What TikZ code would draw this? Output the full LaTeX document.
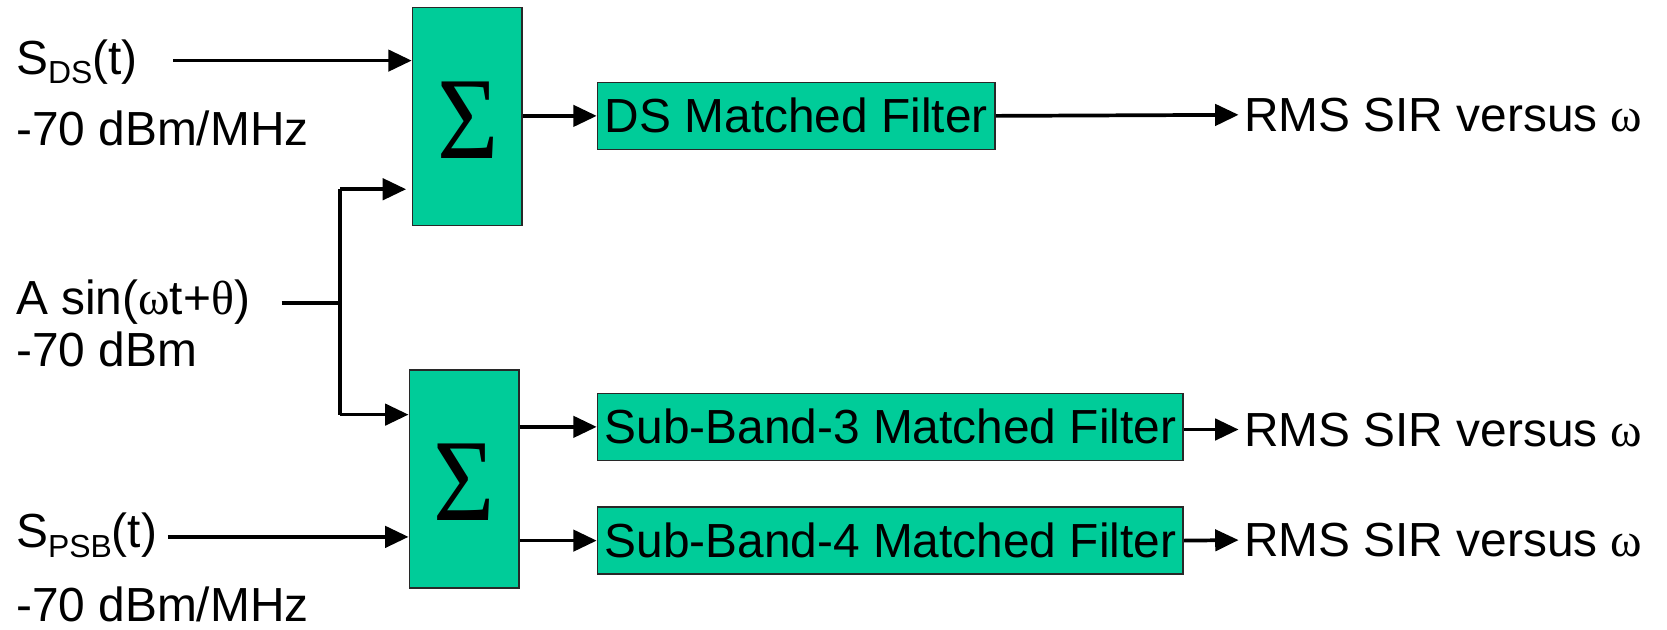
\documentclass[tikz,border=0pt]{standalone}
\usepackage{fontspec}
\setmainfont{Liberation Sans}
\newfontfamily\serifg{Liberation Serif}
\usetikzlibrary{arrows.meta}
\definecolor{boxgreen}{RGB}{0,204,153}
\definecolor{boxedge}{RGB}{40,40,40}
\newcommand{\mybigfont}{\fontsize{45}{54}\selectfont}
\newcommand{\mysubs}[1]{\raisebox{-9pt}{\fontsize{30}{30}\selectfont #1}}
\newcommand{\mysigma}{\scalebox{0.9}[1]{\serifg\fontsize{110}{110}\selectfont Σ}}
\begin{document}
\begin{tikzpicture}[x=1pt,y=-1pt,
  lbl/.style={anchor=base west,inner sep=0pt,font=\mybigfont},
  sumbox/.style={draw=boxedge,line width=1.5pt,fill=boxgreen,minimum width=103pt,minimum height=205pt,inner sep=0pt},
  filt/.style={draw=boxedge,line width=1.5pt,fill=boxgreen,minimum height=63pt,inner sep=0pt,font=\mybigfont},
  arr/.style={line width=3.5pt,-{Triangle[length=22pt,width=20pt]}},
  ln/.style={line width=3.5pt}]
\useasboundingbox (0,0) rectangle (1568,592);
% left labels
\node[lbl] (sds) at (15,70) {S\mysubs{DS}(t)};
\node[lbl] (pds) at (15,137) {-70 dBm/MHz};
\node[lbl] (asin) at (15,296) {A sin({\serifg ω}t+{\serifg θ})};
\node[lbl] (pa) at (15,345) {-70 dBm};
\node[lbl] (spsb) at (15,515) {S\mysubs{PSB}(t)};
\node[lbl] (ppsb) at (15,585) {-70 dBm/MHz};
% boxes
\node[sumbox] (s1) at (439.5,109.5) {};
\node[sumbox] (s2) at (436.5,450.5) {};
\node[inner sep=0pt] (g1) at (440,113) {\mysigma};
\node[inner sep=0pt] (g2) at (437,454) {\mysigma};
\node[filt,minimum width=374pt] (ds) at (749,109) {DS Matched Filter};
\node[filt,minimum width=551pt] (sb3) at (837.5,401.5) {Sub-Band-3 Matched Filter};
\node[filt,minimum width=551pt] (sb4) at (837.5,508.5) {Sub-Band-4 Matched Filter};
% outputs
\node[lbl] (r1) at (1170,124) {RMS SIR versus {\serifg ω}};
\node[lbl] (r2) at (1170,420) {RMS SIR versus {\serifg ω}};
\node[lbl] (r3) at (1170,523) {RMS SIR versus {\serifg ω}};
% coordinates
\coordinate (c1) at (163,57);
\coordinate (c2) at (265,285);
\coordinate (j) at (320,285);
\coordinate (jt) at (320,178);
\coordinate (jb) at (320,390);
\coordinate (t1) at (382,178);
\coordinate (c3) at (158,505);
\coordinate (e1) at (1165,108);
\coordinate (e2) at (1165,404);
\coordinate (e3) at (1165,508);
% connectors
\draw[arr] (c1) -- (s1.west |- c1);
\draw[ln] (c2) -- (j);
\draw[ln] (jt) -- (jb);
\draw[arr] (jt) -- (t1);
\draw[arr] (jb) -- (s2.west |- jb);
\draw[arr] (c3) -- (s2.west |- c3);
\draw[arr] (s1.east |- ds.west) -- (ds.west);
\draw[arr] (s2.east |- sb3.west) -- (sb3.west);
\draw[arr] (s2.east |- sb4.west) -- (sb4.west);
\draw[arr] (ds.east) -- (e1);
\draw[arr] (sb3.east |- e2) -- (e2);
\draw[arr] (sb4.east) -- (e3);
\end{tikzpicture}
\end{document}
